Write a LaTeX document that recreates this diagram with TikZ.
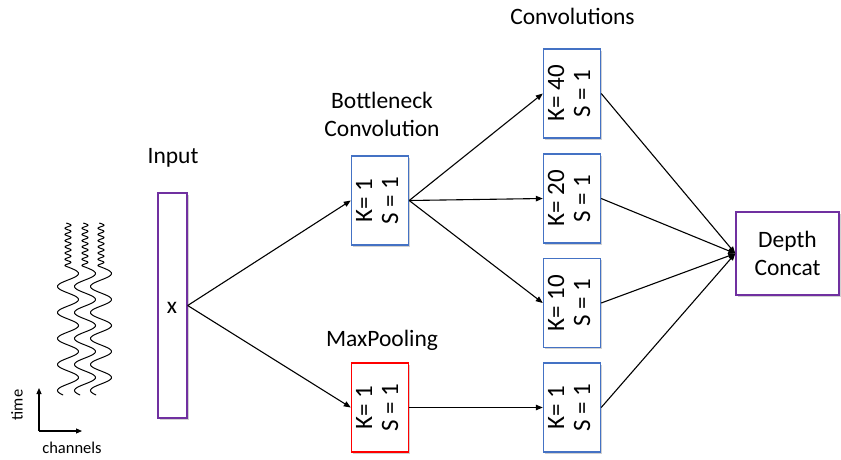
\documentclass[tikz,border=0pt]{standalone}
\usepackage{fontspec}
\setmainfont{Carlito}
\usepackage{graphicx}
\usetikzlibrary{arrows.meta,shadows}
\definecolor{boxblue}{RGB}{68,114,196}
\definecolor{boxpurple}{RGB}{112,48,160}
\definecolor{boxred}{RGB}{255,0,0}
\tikzset{
  layer/.style={draw=boxblue, line width=1.4pt, fill=white, inner sep=0pt,
    drop shadow={shadow xshift=1.5pt, shadow yshift=-1.5pt, opacity=0.3, fill=black!60}},
  convbox/.style={layer, minimum width=57pt, minimum height=89pt},
  poolbox/.style={convbox, draw=boxred},
  purplebox/.style={layer, draw=boxpurple},
  caption/.style={font=\fontsize{23.5}{28}\selectfont, align=center},
  small/.style={font=\fontsize{16.5}{18}\selectfont},
  conn/.style={line width=1.1pt, -{Triangle[length=7pt,width=5.5pt]}},
  plain/.style={line width=1.1pt},
  wave/.style={line width=1pt, smooth},
}
\newcommand{\kslabel}[1]{\rotatebox{90}{\fontsize{25}{26}\selectfont\begin{tabular}{@{}c@{}}#1\\S = 1\end{tabular}}}
\begin{document}
\begin{tikzpicture}[x=1pt,y=-1pt]
\useasboundingbox (0,0) rectangle (841,459);

% input signal: three channels of wavy time series
\foreach \cx in {68,85,101}{
  \draw[wave] plot[domain=223:267, samples=120] ({\cx + 3*sin((\x-267)/6.2*360)}, \x);
  \draw[wave] plot[domain=267:395, samples=200] ({\cx + 10.5*sin((\x-267)/26*360)}, \x);
}

% time / channels axes
\coordinate (origin) at (39,431);
\coordinate (tend) at (39,388);
\coordinate (cend) at (82,431);
\draw[plain, -{Triangle[length=6pt,width=5pt]}] (origin) -- (tend);
\draw[plain, -{Triangle[length=6pt,width=5pt]}] (origin) -- (cend);
\node[small, rotate=90] (tlab) at (17,405) {time};
\node[small] (clab) at (72,448) {channels};

% input
\node[purplebox, minimum width=29pt, minimum height=225pt] (inp) at (172.5,305.5) {};
\node[caption] (xlab) at (172,308) {x};
\node[caption] (inlab) at (173,158) {Input};

% bottleneck and pooling
\node[convbox] (bn) at (380,200.5) {\kslabel{K= 1}};
\node[caption] (bnlab) at (382,114) {Bottleneck\\Convolution};
\node[poolbox] (mp) at (380,407.5) {\kslabel{K= 1}};
\node[caption] (mplab) at (382,340) {MaxPooling};

% parallel convolutions
\node[convbox] (c40) at (572,93.5) {\kslabel{K= 40}};
\node[convbox] (c20) at (572,198.5) {\kslabel{K= 20}};
\node[convbox] (c10) at (572,303) {\kslabel{K= 10}};
\node[convbox] (c1) at (572,407.5) {\kslabel{K= 1}};
\node[caption] (cvlab) at (572.5,16) {Convolutions};

% concatenation
\node[purplebox, minimum width=103pt, minimum height=83pt, caption] (cat) at (787.5,253.5) {Depth\\Concat};

% connectors
\draw[conn] (inp.east) -- (bn.west);
\draw[conn] (inp.east) -- (mp.west);
\draw[conn] (bn.east) -- (c40.west);
\draw[conn] (bn.east) -- (c20.west);
\draw[conn] (bn.east) -- (c10.west);
\draw[conn] (mp.east) -- (c1.west);
\foreach \n in {c40,c20,c10,c1}{
  \draw[conn] (\n.east) -- (cat.west);
}
\end{tikzpicture}
\end{document}
